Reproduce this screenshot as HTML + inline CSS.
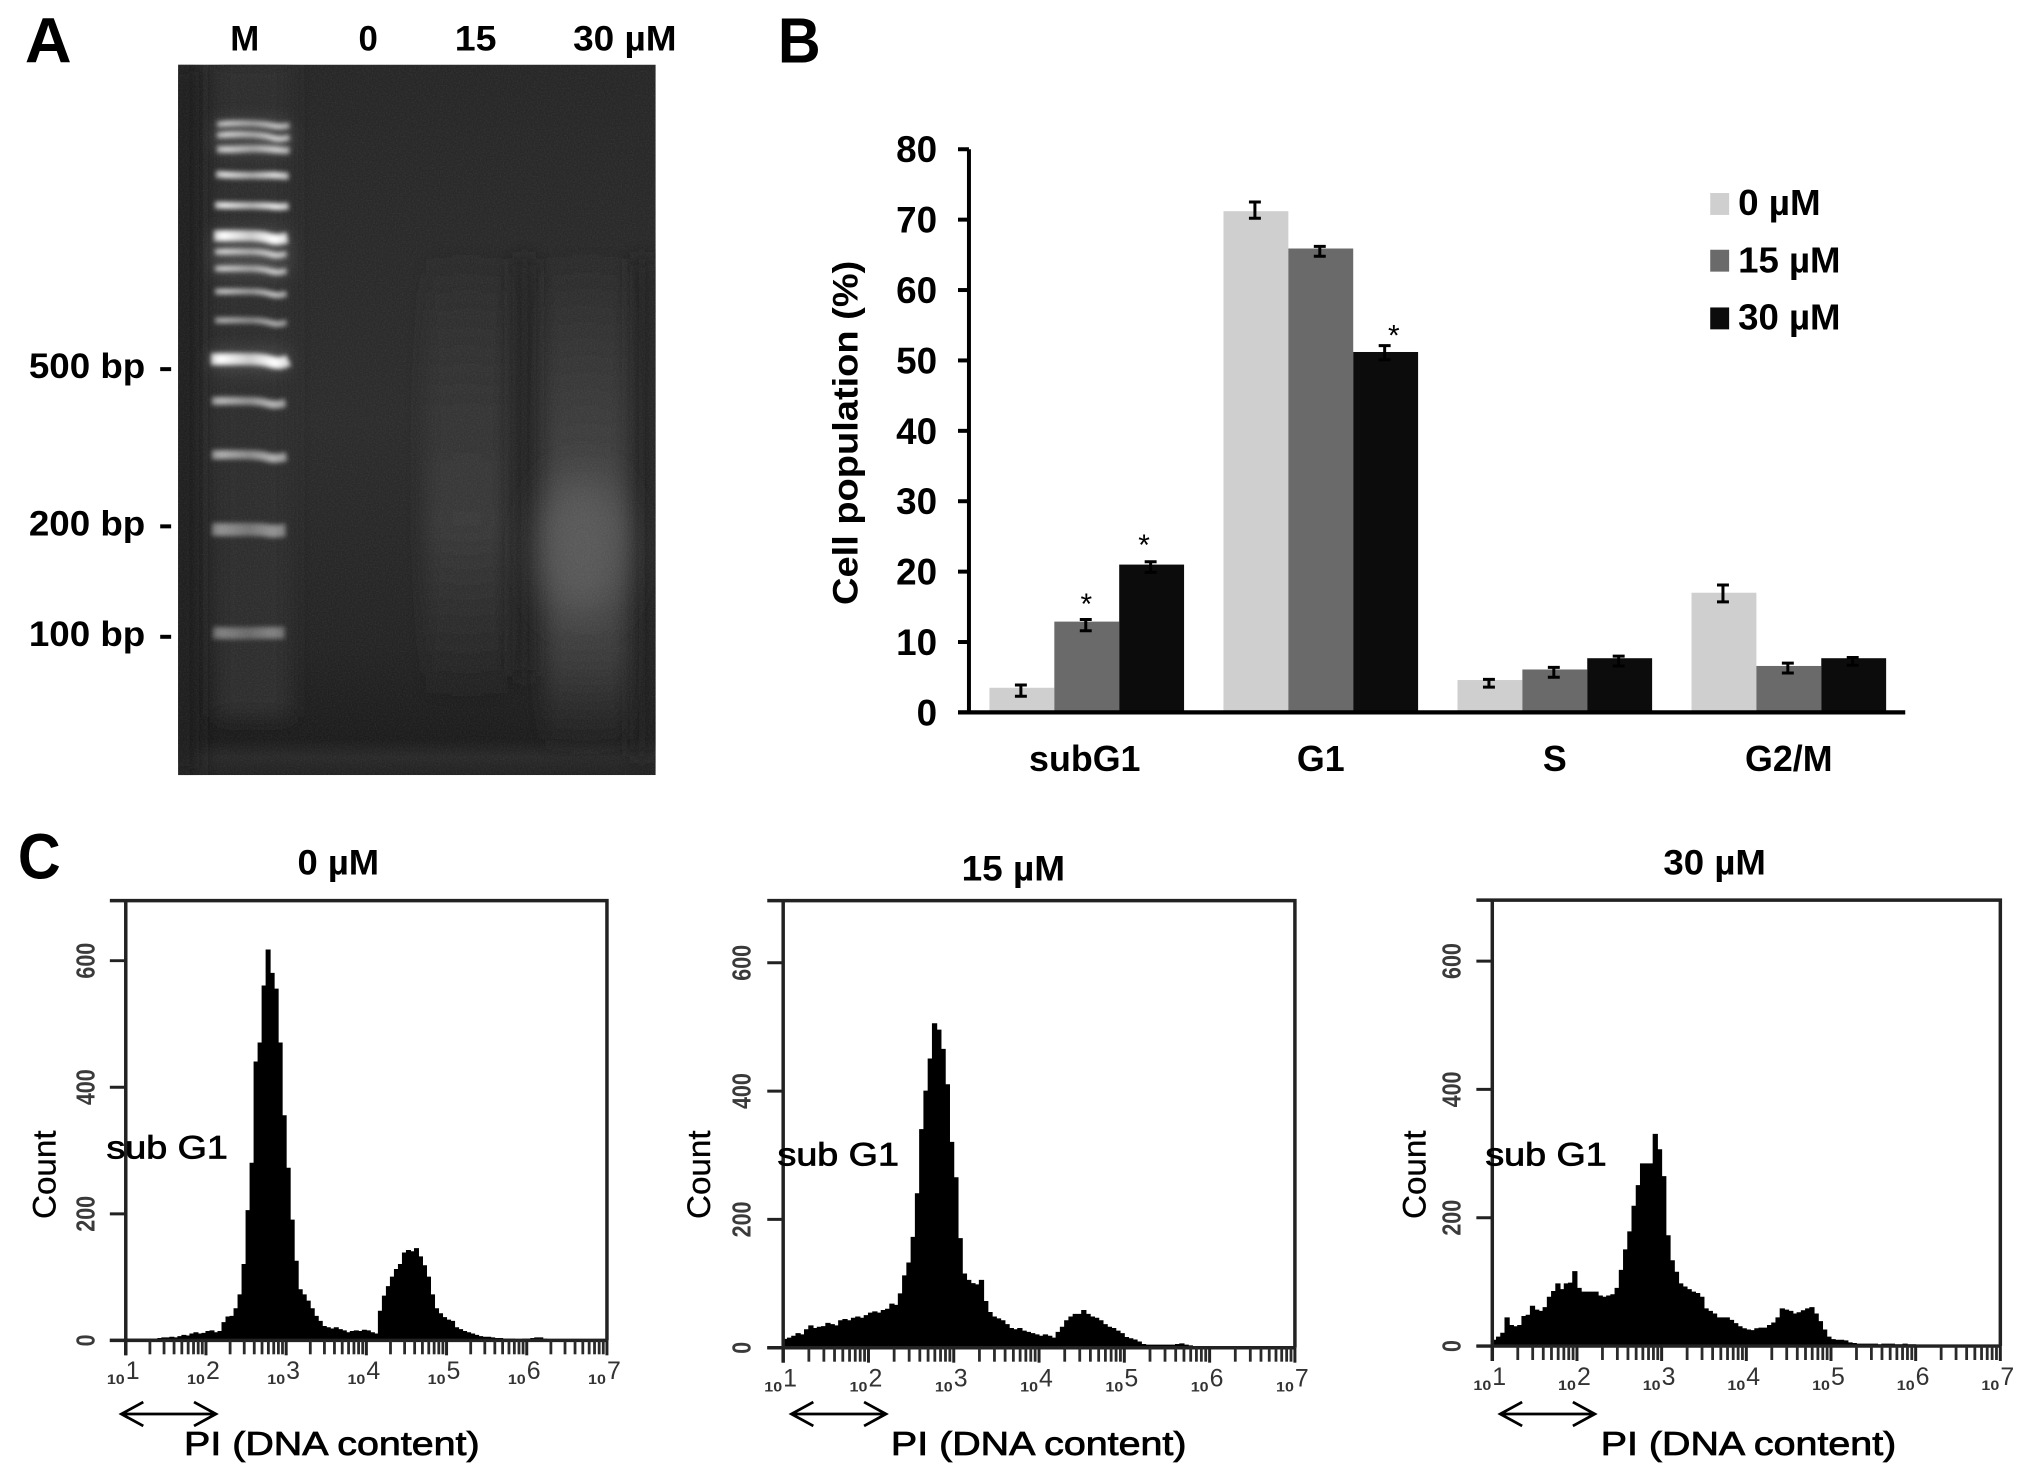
<!DOCTYPE html>
<html lang="en">
<head>
<meta charset="utf-8">
<title>DNA fragmentation, cell cycle and PI histograms</title>
<style>
html,body{margin:0;padding:0;background:#fff;width:2031px;height:1478px;overflow:hidden}
svg{display:block}
text{font-family:"Liberation Sans",sans-serif;fill:#000}
.b{font-weight:bold}
.band{fill:none;stroke:url(#bandGrad);stroke-linecap:butt}
</style>
</head>
<body>
<svg id="fig" xmlns="http://www.w3.org/2000/svg" width="2031" height="1478" viewBox="0 0 2031 1478">
<defs>
<filter id="blurS" filterUnits="userSpaceOnUse" x="100" y="0" width="700" height="900"><feGaussianBlur stdDeviation="2.3"/></filter>
<filter id="blurM" filterUnits="userSpaceOnUse" x="100" y="0" width="700" height="900"><feGaussianBlur stdDeviation="10"/></filter>
<filter id="blurL" filterUnits="userSpaceOnUse" x="100" y="0" width="700" height="900"><feGaussianBlur stdDeviation="20"/></filter>
<filter id="grain" filterUnits="userSpaceOnUse" x="179" y="65" width="480" height="714">
<feTurbulence type="fractalNoise" baseFrequency=".7" numOctaves="2" seed="4"/>
<feColorMatrix type="matrix" values="0 0 0 0 1  0 0 0 0 1  0 0 0 0 1  .35 0 0 0 -.12"/>
</filter>
<clipPath id="gelClip"><rect x="179" y="65" width="480" height="714"/></clipPath>
<linearGradient id="gelBg" x1="0" y1="0" x2="0" y2="1">
<stop offset="0" stop-color="#272727"/><stop offset=".5" stop-color="#2c2c2c"/><stop offset=".82" stop-color="#242424"/><stop offset=".95" stop-color="#1c1c1c"/><stop offset=".975" stop-color="#292929"/><stop offset="1" stop-color="#222"/>
</linearGradient>
<linearGradient id="bandGrad" x1="0" y1="0" x2="1" y2="0">
<stop offset="0" stop-color="#fff" stop-opacity=".75"/><stop offset=".12" stop-color="#fff"/><stop offset=".5" stop-color="#fff" stop-opacity=".72"/><stop offset=".82" stop-color="#fff"/><stop offset="1" stop-color="#fff" stop-opacity=".8"/>
</linearGradient>
<linearGradient id="smear30" x1="0" y1="0" x2="0" y2="1">
<stop offset="0" stop-color="#404040" stop-opacity="0"/><stop offset=".3" stop-color="#404040" stop-opacity=".7"/><stop offset=".55" stop-color="#4a4a4a"/><stop offset=".8" stop-color="#3c3c3c"/><stop offset="1" stop-color="#333" stop-opacity="0"/>
</linearGradient>
<linearGradient id="smear15" x1="0" y1="0" x2="0" y2="1">
<stop offset="0" stop-color="#363636" stop-opacity="0"/><stop offset=".35" stop-color="#343434"/><stop offset=".6" stop-color="#3a3a3a"/><stop offset="1" stop-color="#303030" stop-opacity="0"/>
</linearGradient>
</defs>

<!-- Panel A : gel -->
<g id="panel-a" transform="scale(.995)">
<text class="b" x="25" y="63" font-size="64" textLength="47" lengthAdjust="spacingAndGlyphs">A</text>
<g clip-path="url(#gelClip)">
<rect x="179" y="65" width="480" height="714" fill="url(#gelBg)"/>
<rect x="170" y="65" width="30" height="714" fill="#1f1f1f" filter="url(#blurM)"/>
<rect x="218" y="60" width="74" height="660" fill="#2e2e2e" filter="url(#blurM)"/>
<rect x="428" y="250" width="82" height="460" fill="url(#smear15)" filter="url(#blurM)"/>
<rect x="518" y="260" width="18" height="420" fill="#222" filter="url(#blurM)"/>
<rect x="636" y="260" width="18" height="500" fill="#222" filter="url(#blurM)"/>
<rect x="548" y="250" width="82" height="510" fill="url(#smear30)" filter="url(#blurM)"/>
<ellipse cx="585" cy="550" rx="40" ry="70" fill="#5a5a5a" filter="url(#blurL)"/>
<g filter="url(#blurM)" opacity=".3">
<rect x="216" y="122" width="74" height="30" fill="#888"/>
<rect x="214" y="232" width="76" height="45" fill="#888"/>
<rect x="212" y="354" width="78" height="16" fill="#aaa"/>
</g>
<g filter="url(#blurS)">
<path class="band" d="M218 125c22-2 44-1 54 1s14 1 19 0" stroke-width="6" opacity=".72"/>
<path class="band" d="M218 136c22-2 44-1 54 2s14 1 19 0" stroke-width="6" opacity=".78"/>
<path class="band" d="M218 150c22 1 32-2 54 0s14 1 19 1" stroke-width="7" opacity=".75"/>
<path class="band" d="M217 175c22 2 44 1 54 1s14 1 19 1" stroke-width="7" opacity=".85"/>
<path class="band" d="M216 206c22 1 44 0 54 1s14 1 20 0" stroke-width="7" opacity=".9"/>
<path class="band" d="M215 237c22 0 44-1 54 2s14 1 20 0" stroke-width="11" opacity="1"/>
<path class="band" d="M216 253c22 0 44-1 54 2s14 1 18 0" stroke-width="6" opacity=".78"/>
<path class="band" d="M216 270c22 0 44-1 54 2s14 1 18 0" stroke-width="6" opacity=".75"/>
<path class="band" d="M216 293c22 0 44-1 54 2s14 1 18 0" stroke-width="6" opacity=".72"/>
<path class="band" d="M216 322c22 0 44-1 54 2s14 1 18 0" stroke-width="6" opacity=".62"/>
<path class="band" d="M212 361c26 0 48-1 58 2s14 2 20-1" stroke-width="12" opacity="1"/>
<path class="band" d="M213 403c22 0 44-1 54 2s14 1 20 0" stroke-width="8" opacity=".65"/>
<path class="band" d="M213 457c22 0 44-1 54 2s14 1 21 0" stroke-width="9" opacity=".62"/>
<path class="band" d="M213 532c22 1 44-1 54 1s14 0 20 0" stroke-width="13" opacity=".48"/>
<path class="band" d="M214 636c22 1 44 0 54 0s14 0 18 0" stroke-width="12" opacity=".4"/>
</g>
<rect x="179" y="65" width="480" height="714" filter="url(#grain)" opacity=".35"/>
</g>
<text class="b" x="246" y="51" font-size="35" text-anchor="middle">M</text>
<text class="b" x="370" y="51" font-size="35" text-anchor="middle">0</text>
<text class="b" x="478" y="51" font-size="35" text-anchor="middle" textLength="42" lengthAdjust="spacingAndGlyphs">15</text>
<text class="b" x="576" y="51" font-size="35" textLength="104" lengthAdjust="spacingAndGlyphs">30 µM</text>
<text class="b" x="29" y="380" font-size="35" textLength="117" lengthAdjust="spacingAndGlyphs">500 bp</text>
<text class="b" x="29" y="538" font-size="35" textLength="117" lengthAdjust="spacingAndGlyphs">200 bp</text>
<text class="b" x="29" y="649" font-size="35" textLength="117" lengthAdjust="spacingAndGlyphs">100 bp</text>
<rect x="161" y="369" width="11" height="4"/>
<rect x="161" y="527" width="11" height="4"/>
<rect x="161" y="638" width="11" height="4"/>
</g>

<!-- Panel B : bars -->
<g id="panel-b" transform="translate(760,0) scale(.995) translate(-760,0)">
<text class="b" x="778" y="63" font-size="64" textLength="43" lengthAdjust="spacingAndGlyphs">B</text>
<text class="b" transform="translate(858,608) rotate(-90)" font-size="35" textLength="346" lengthAdjust="spacingAndGlyphs">Cell population (%)</text>
<g id="bar-layer"></g>
<g id="bar-axes"></g>
<g>
<rect x="1715" y="194" width="19" height="22" fill="#cfcfcf"/>
<text class="b" x="1743" y="216" font-size="36" textLength="83" lengthAdjust="spacingAndGlyphs">0 µM</text>
<rect x="1715" y="251" width="19" height="22" fill="#6a6a6a"/>
<text class="b" x="1743" y="274" font-size="36" textLength="103" lengthAdjust="spacingAndGlyphs">15 µM</text>
<rect x="1715" y="309" width="19" height="22" fill="#0c0c0c"/>
<text class="b" x="1743" y="331" font-size="36" textLength="103" lengthAdjust="spacingAndGlyphs">30 µM</text>
</g>
<text x="1088" y="617" font-size="30" text-anchor="middle">*</text>
<text x="1146" y="558" font-size="30" text-anchor="middle">*</text>
<text x="1397" y="347" font-size="30" text-anchor="middle">*</text>
</g>

<!-- Panel C -->
<g id="panel-c">
<g transform="translate(0,820) scale(.995) translate(0,-820)">
<text class="b" x="18" y="879" font-size="64" textLength="43" lengthAdjust="spacingAndGlyphs">C</text>
<text class="b" x="299" y="875" font-size="35" textLength="82" lengthAdjust="spacingAndGlyphs">0 µM</text>
</g>
<text class="b" transform="translate(680,820) scale(.995) translate(-680,-820)" x="963" y="881" font-size="35" textLength="104" lengthAdjust="spacingAndGlyphs">15 µM</text>
<text class="b" transform="translate(1351,820) scale(.995) translate(-1351,-820)" x="1665" y="875" font-size="35" textLength="103" lengthAdjust="spacingAndGlyphs">30 µM</text>
<g id="hist-0" transform="translate(0,820) scale(.995) translate(0,-820)"></g>
<g id="hist-15" transform="translate(680,820) scale(.995) translate(-680,-820)"></g>
<g id="hist-30" transform="translate(1351,820) scale(.995) translate(-1351,-820)"></g>
</g>
</svg>

<script>
// ---- Panel B data ----
const barCategories = ['subG1', 'G1', 'S', 'G2/M'];
const barTicks = [0, 10, 20, 30, 40, 50, 60, 70, 80];
const values0 = [3.5, 71.2, 4.6, 17.0];
const values15 = [12.9, 65.9, 6.1, 6.6];
const values30 = [21.0, 51.2, 7.7, 7.7];
const errCenter0 = [3.1, 71.35, 4.15, 16.9];
const errCenter15 = [12.4, 65.5, 5.7, 6.3];
const errCenter30 = [20.65, 51.1, 7.3, 7.25];
const errHalf0 = [0.8, 1.15, 0.55, 1.2];
const errHalf15 = [0.8, 0.7, 0.7, 0.7];
const errHalf30 = [0.75, 1.0, 0.7, 0.55];

// ---- Panel C data (counts per histogram bin, 20 bins per decade) ----
const countTicks = [0, 200, 400, 600];
const decades = [1, 2, 3, 4, 5, 6, 7];
const minorMultipliers = [2, 3, 4, 5, 6, 7, 8, 9];
const counts0 = [2,2,2,2,2,2,2,2,3,4, 4,5,4,6,8,7,10,12,10,11, 14,15,12,14,28,37,38,50,72,120, 205,280,440,470,560,617,580,555,470,355, 272,190,125,80,72,62,50,38,30,22, 20,18,20,17,15,12,14,15,14,16, 15,12,10,46,70,85,100,112,120,138, 142,140,145,132,118,100,72,50,42,36, 32,30,20,17,14,12,10,8,6,5, 5,4,3,3,2,2,2,1,1,2, 2,3,4,4,2,1,1,1,1,1, 1,1,1,1,1,1,1,1,1,1];
const counts15 = [13,15,18,22,20,28,34,30,32,33, 38,36,34,42,44,42,46,48,46,50, 54,56,54,58,60,68,66,84,112,132, 172,240,340,400,450,505,495,465,410,320, 265,170,115,105,100,98,105,72,55,48, 45,42,36,30,28,30,26,24,22,20, 18,20,18,15,24,32,42,48,52,52, 58,52,48,46,42,36,32,30,26,22, 16,14,12,9,5,4,4,4,4,4, 4,4,5,6,4,3,2,2,2,2, 2,2,2,2,2,2,2,2,2,2, 2,2,2,2,2,2,2,2,2,2];
const counts30 = [9,14,20,44,32,30,32,46,48,62, 56,54,60,76,85,97,88,97,98,116, 90,84,84,84,84,78,76,78,80,90, 118,150,178,218,250,284,284,284,330,306, 264,172,133,115,97,92,88,84,82,76, 58,54,50,44,44,44,40,35,30,27, 25,24,27,28,28,32,36,44,58,56, 54,50,52,55,58,60,50,38,25,14, 10,9,9,8,5,4,3,3,3,3, 3,2,3,3,3,2,2,3,2,2, 1,1,1,1,1,1,1,1,1,1, 1,1,1,1,1,1,1,1,1,1];

const NS = 'http://www.w3.org/2000/svg';
function mk(parent, tag, attrs, txt) {
  const el = document.createElementNS(NS, tag);
  for (const k in attrs) el.setAttribute(k, attrs[k]);
  if (txt !== undefined) el.textContent = txt;
  parent.appendChild(el);
  return el;
}

// ---- Bar chart ----
(function () {
  const barLayer = document.getElementById('bar-layer');
  const axes = document.getElementById('bar-axes');
  const y = v => 716 - v * 7.075;
  const groupX = i => 990.6 + i * 235.2;
  const barW = 65.2;
  const seriesList = [
    { key: '0', vals: values0, c: errCenter0, h: errHalf0, fill: '#cfcfcf' },
    { key: '15', vals: values15, c: errCenter15, h: errHalf15, fill: '#6a6a6a' },
    { key: '30', vals: values30, c: errCenter30, h: errHalf30, fill: '#0c0c0c' }
  ];
  seriesList.forEach((s, si) => {
    s.vals.forEach((v, i) => {
      const x = groupX(i) + si * barW;
      const r = mk(barLayer, 'rect', { x: x, y: y(v), width: barW, height: 716 - y(v), fill: s.fill });
      
      
    });
  });
  seriesList.forEach((s, si) => {
    s.vals.forEach((v, i) => {
      const cx = groupX(i) + (si + 0.5) * barW - 1;
      const hi = y(s.c[i] + s.h[i]);
      const lo = y(s.c[i] - s.h[i]);
      const p = mk(barLayer, 'path', { d: `M${cx - 6} ${hi}H${cx + 6}M${cx} ${hi}V${lo}M${cx - 6} ${lo}H${cx + 6}`, stroke: '#000', 'stroke-width': 3, fill: 'none' });
      
      
    });
  });
  const yAxis = mk(axes, 'line', { x1: 970, y1: 150, x2: 970, y2: 718, stroke: '#000', 'stroke-width': 4 });
  
  
  const xAxis = mk(axes, 'line', { x1: 959, y1: 716, x2: 1911, y2: 716, stroke: '#000', 'stroke-width': 4.3 });
  
  
  barTicks.forEach(t => {
    const tick = mk(axes, 'line', { x1: 959, y1: y(t), x2: 970, y2: y(t), stroke: '#000', 'stroke-width': 4 });
    
    
    const lab = mk(axes, 'text', { x: 938, y: y(t) + 13, 'font-size': 37, 'font-weight': 'bold', 'text-anchor': 'end' }, String(t));
    
    
  });
  barCategories.forEach((c, i) => {
    const cx = groupX(i) + 1.5 * barW - (i === 0 ? 2 : 0);
    const lab = mk(axes, 'text', { x: cx, y: 775, 'font-size': 36, 'font-weight': 'bold', 'text-anchor': 'middle' }, c);
    
    
  });
})();

// ---- Histograms ----
function drawHistogram(id, counts, L) {
  const g = document.getElementById(id);
  const decadeW = (L.right - L.left) / 6;
  const binW = decadeW / 20;
  const y = c => L.zero - c * (L.zero - L.y600) / 600;
  const xd = d => L.left + (d - 1) * decadeW;

  let d = `M${L.left} ${L.zero}`;
  counts.forEach((c, i) => {
    const x0 = L.left + i * binW;
    d += `L${x0} ${y(c)}L${x0 + binW} ${y(c)}`;
  });
  d += `L${L.right} ${L.zero}Z`;
  const hist = mk(g, 'path', { d: d, fill: '#000', stroke: '#000', 'stroke-width': 1 });
  
  

  const frame = mk(g, 'path', {
    d: `M${L.left - 16} ${L.top}H${L.right}V${L.zero}M${L.left} ${L.top}V${L.zero + 15}M${L.left - 16} ${L.zero}H${L.right}`,
    fill: 'none', stroke: '#222', 'stroke-width': 3.5
  });
  
  

  countTicks.forEach(t => {
    const tick = mk(g, 'line', { x1: L.left - 16, x2: L.left, y1: y(t), y2: y(t), stroke: '#222', 'stroke-width': 3 });
    
    
    const lab = mk(g, 'text', { transform: `translate(${L.tickLabelX},${y(t)}) rotate(-90)`, 'font-size': 26, 'font-weight': 'bold', 'text-anchor': 'middle', textLength: String(t).length * 12, lengthAdjust: 'spacingAndGlyphs', style: 'fill:#3a3a3a' }, String(t));
    
    
  });

  decades.forEach((dec, i) => {
    const x = xd(dec);
    const tick = mk(g, 'line', { x1: x, x2: x, y1: L.zero, y2: L.zero + 15, stroke: '#222', 'stroke-width': 3 });
    
    
    if (i < decades.length - 1) {
      minorMultipliers.forEach(m => {
        const mx = x + Math.log10(m) * decadeW;
        const mt = mk(g, 'line', { x1: mx, x2: mx, y1: L.zero, y2: L.zero + 14, stroke: '#2a2a2a', 'stroke-width': 2.8 });
        
        
      });
    }
    const base = mk(g, 'text', { x: x - 19, y: L.zero + 44, 'font-size': 14, 'font-weight': 'bold', textLength: 18, lengthAdjust: 'spacingAndGlyphs', style: 'fill:#333' }, '10');
    
    
    const exp = mk(g, 'text', { x: x, y: L.zero + 39, 'font-size': 25, style: 'fill:#333' }, String(dec));
    
    
  });

  const count = mk(g, 'text', { transform: `translate(${L.countX},1221) rotate(-90)`, 'font-size': 33, textLength: 89, lengthAdjust: 'spacingAndGlyphs', stroke: '#000', 'stroke-width': 0.3 }, 'Count');
  
  

  const sub = mk(g, 'text', { x: L.subX, y: L.subY, 'font-size': 33, textLength: 122, lengthAdjust: 'spacingAndGlyphs', stroke: '#000', 'stroke-width': 0.8 }, 'sub G1');
  
  

  const ar = L.arrowX;
  const arrow = mk(g, 'path', { d: `M${ar} 1417H${ar + 95}M${ar + 22} 1405L${ar} 1417L${ar + 22} 1429M${ar + 73} 1405L${ar + 95} 1417L${ar + 73} 1429`, fill: 'none', stroke: '#000', 'stroke-width': 2.8 });
  
  

  const xt = mk(g, 'text', { x: L.piX, y: 1458, 'font-size': 33.5, textLength: 297, lengthAdjust: 'spacingAndGlyphs', stroke: '#000', 'stroke-width': 0.8 }, 'PI (DNA content)');
  
  
}

drawHistogram('hist-0', counts0, { left: 126.4, right: 610, top: 901, zero: 1343, y600: 961.4, tickLabelX: 95, countX: 56, subX: 107, subY: 1160, arrowX: 122, piX: 185 });
drawHistogram('hist-15', counts15, { left: 783.7, right: 1298, top: 901, zero: 1350.4, y600: 963.5, tickLabelX: 751, countX: 710, subX: 778, subY: 1167, arrowX: 792, piX: 892 });
drawHistogram('hist-30', counts30, { left: 1493, right: 2003.6, top: 900.5, zero: 1348.7, y600: 961.8, tickLabelX: 1461, countX: 1426, subX: 1486, subY: 1167, arrowX: 1501, piX: 1602 });
</script>
</body>
</html>
